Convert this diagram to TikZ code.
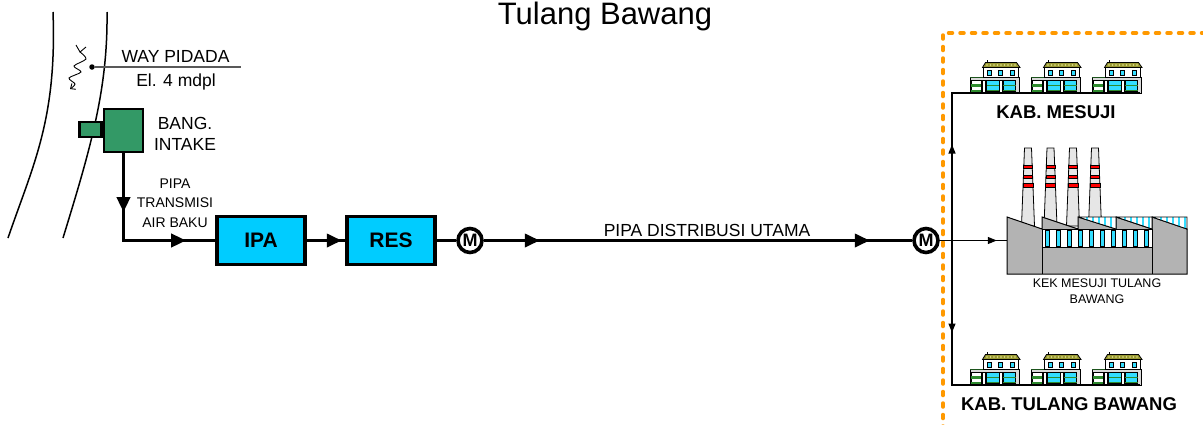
\documentclass[tikz,border=0pt]{standalone}
\usepackage{fontspec}
\setmainfont{Liberation Sans}
\usetikzlibrary{arrows.meta,decorations.markings,positioning}

\definecolor{intakegreen}{HTML}{339966}
\definecolor{unitcyan}{HTML}{00CCFF}
\definecolor{zoneorange}{HTML}{FF9900}
\definecolor{roofolive}{HTML}{999933}
\definecolor{roofdot}{HTML}{E0E090}
\definecolor{glass}{HTML}{33DDFF}
\definecolor{housegreen}{HTML}{2E8B2E}
\definecolor{wallgray}{HTML}{D9D9D9}
\definecolor{plantgray}{HTML}{B3B3B3}
\definecolor{stackgray}{HTML}{E6E6E6}

\tikzset{
  pipe/.style={line width=3.6pt},
  feeder/.style={line width=1.2pt},
  flowtip/.style={postaction={decorate,decoration={markings,
      mark=at position #1 with {\arrow{Triangle[length=15pt,width=13pt]}}}}},
  thintip/.style={postaction={decorate,decoration={markings,
      mark=at position #1 with {\arrow{Triangle[length=9pt,width=7pt]}}}}},
  unit/.style={draw,line width=3.6pt,fill=unitcyan,minimum width=88pt,
      minimum height=48pt,font=\bfseries\fontsize{21}{23}\selectfont},
  meter/.style={circle,draw,line width=3.6pt,fill=white,minimum size=24pt,
      inner sep=0pt,font=\bfseries\fontsize{18}{18}\selectfont},
  intakebox/.style={draw,line width=2.4pt,fill=intakegreen,inner sep=0pt},
  lbl/.style={font=\fontsize{17.5}{20}\selectfont,inner sep=0pt},
  smalllbl/.style={font=\fontsize{14}{19.5}\selectfont,inner sep=0pt,align=center},
  kablbl/.style={font=\bfseries\fontsize{18.5}{20}\selectfont,inner sep=0pt},
  house/.pic={
    % LANTAI BAWAH
    \draw[line width=0.8pt,fill=wallgray] (0,0) rectangle (49,-15.5);
    \draw[line width=1.6pt,housegreen!60!black] (0,-15.5) -- (49,-15.5);
    \draw[line width=0.6pt,fill=white] (0.8,-13) rectangle (11.5,-0.5);
    \fill[housegreen] (1.3,-9.5) rectangle (11,-6.5);
    \fill[housegreen] (1.3,-3.5) rectangle (11,-1);
    \draw[line width=0.6pt,fill=white] (12.5,-13) rectangle (15,-0.5);
    \foreach \wx in {16.5,33} {
      \draw[line width=0.6pt,fill=glass] (\wx,-13) rectangle (\wx+12.5,-1.5);
      \draw[line width=1.2pt,housegreen] (\wx,-7.5) -- (\wx+12.5,-7.5);
      \draw[line width=1.2pt,housegreen] (\wx,-2.5) -- (\wx+12.5,-2.5);
    }
    \draw[line width=0.6pt,fill=white] (29.5,-13) rectangle (32.5,-0.5);
    % LANTAI ATAS
    \draw[line width=0.8pt,fill=white] (13.5,-15.5) rectangle (48.5,-25.5);
    \foreach \wx in {19,30.5,42}
      \draw[line width=0.6pt,fill=glass] (\wx-2.2,-17.8) rectangle (\wx+2.2,-22.5);
    % ATAP
    \draw[line width=0.8pt,fill=roofolive] (12.5,-25.5) -- (15.5,-30.5)
      -- (46.5,-30.5) -- (50,-25.5) -- cycle;
    \foreach \rx in {17,20.5,...,46} \fill[roofdot] (\rx,-28) circle (0.8pt);
    \draw[line width=0.8pt] (17,-30.5) -- (17,-33.5);
  }
}

\begin{document}
\begin{tikzpicture}[x=1pt,y=-1pt]
  \useasboundingbox (0,0) rectangle (1203,424);

  % JUDUL
  \node[font=\fontsize{31}{33}\selectfont,anchor=base,inner sep=0pt] (judul) at (605,24) {Tulang Bawang};

  % SUNGAI
  \draw[line width=1.5pt] (53,12) .. controls (57,120) and (33,165) .. (8,238);
  \draw[line width=1.5pt] (107,12) .. controls (108,90) and (90,150) .. (63,238);
  \draw[line width=0.9pt] (76,45) -- (80,52) -- (86,47);
  \draw[line width=0.9pt,-{Straight Barb[length=4pt,width=7pt]}]
    plot[smooth] coordinates {(80,52) (86,59) (74,66) (81,72) (69,78) (75,84) (70,89)};

  % TITIK SUMBER
  \node[circle,fill,inner sep=0pt,minimum size=5.5pt] (sumber) at (92,67) {};
  \coordinate (ujung) at (241,67);
  \draw[line width=1.1pt,black!65] (sumber) -- (ujung);
  \node[lbl,anchor=base] (way) at (175.5,62) {WAY PIDADA};
  \node[lbl,anchor=base] (elev) at (176,86) {El. 4 mdpl};

  % BANGUNAN INTAKE
  \node[intakebox,minimum width=39pt,minimum height=43pt] (intake) at (123.5,130.5) {};
  \node[intakebox,minimum width=22pt,minimum height=15pt,left=0pt of intake,yshift=1pt] (inlet) {};
  \node[lbl,align=center,font=\fontsize{17.5}{21}\selectfont] (intakelbl) at (185,134) {BANG.\\INTAKE};

  % UNIT PENGOLAHAN
  \node[unit] (ipa) at (261,240.5) {IPA};
  \node[unit] (res) at (391,240.5) {RES};
  \node[meter] (m1) at (470,240.5) {M};
  \node[meter] (m2) at (926,240.5) {M};
  \node[lbl,anchor=base] (pipautama) at (707,236) {PIPA DISTRIBUSI UTAMA};
  \node[smalllbl] (transmisi) at (175,203) {PIPA\\TRANSMISI\\AIR BAKU};

  % PIPA
  \draw[pipe,flowtip=59pt,flowtip=150pt] (intake.south) |- (ipa.west);
  \draw[pipe,flowtip=35pt] (ipa.east) -- (res.west);
  \draw[pipe] (res.east) -- (m1.west);
  \draw[pipe,flowtip=56pt,flowtip=386pt] (m1.east) -- (m2.west);

  % KAWASAN LAYANAN
  \draw[zoneorange,line width=3.5pt,line cap=round,dash pattern=on 4pt off 7.5pt]
    (943,430) -- (943,33) -- (1210,33);

  % CEROBONG
  \foreach \cx in {1028,1050.5,1073,1095} {
    \draw[line width=0.8pt,fill=stackgray] (\cx-3.5,148) -- (\cx+3.5,148)
      -- (\cx+6.5,226) -- (\cx-6.5,226) -- cycle;
    \foreach \by/\hw in {165/4.3,175/4.6,183.5/4.9}
      \draw[line width=0.6pt,fill=red] (\cx-\hw,\by) rectangle (\cx+\hw,\by+3.5);
  }

  % PABRIK
  \draw[line width=1pt,fill=plantgray] (1007,274) -- (1007,217) -- (1042,229)
    -- (1042,217) -- (1078,229) -- (1078,217) -- (1116,229) -- (1116,217)
    -- (1152,229) -- (1152,217) -- (1187,229) -- (1187,274) -- cycle;
  \foreach \sa/\sb in {1078/1116,1116/1152,1152/1187} {
    \begin{scope}
      \clip (\sa,217) -- (\sb,217) -- (\sb,229) -- cycle;
      \fill[white] (\sa,217) rectangle (\sb,229);
      \foreach \gx in {0,6,...,36}
        \fill[glass] (\sa+\gx+1.5,216) rectangle (\sa+\gx+4,230);
    \end{scope}
    \draw[line width=0.8pt] (\sa,217) -- (\sb,217) -- (\sb,229) -- (\sa,217);
  }
  \draw[line width=1pt,fill=white] (1042,229) rectangle (1152,247.5);
  \foreach \gx in {1045,1056,...,1145}
    \draw[line width=0.5pt,fill=glass] (\gx,230.5) rectangle (\gx+4.5,246);
  \draw[line width=1pt] (1042,229) -- (1042,274);
  \draw[line width=1pt] (1152,229) -- (1152,274);
  \node[minimum width=180pt,minimum height=57pt,inner sep=0pt] (kek) at (1097,245.5) {};
  \node[font=\fontsize{12.5}{16}\selectfont,align=center,inner sep=0pt] (keklbl) at (1097,291.5)
    {KEK MESUJI TULANG\\BAWANG};

  % PERUMAHAN
  \foreach \hx in {970,1031,1092} {
    \pic at (\hx,93) {house};
    \pic at (\hx,385) {house};
  }

  % JARINGAN DISTRIBUSI
  \coordinate (tee) at (952,240.5);
  \coordinate (mesujiend) at (1140,93);
  \coordinate (tulangend) at (1140,385);
  \draw[feeder,thintip=57pt] (m2.east) -- (kek.west |- m2.east);
  \draw[feeder,thintip=96pt] (tee) |- (mesujiend);
  \draw[feeder,thintip=92pt] (tee) |- (tulangend);
  \node[kablbl] (mesuji) at (1056,112.5) {KAB. MESUJI};
  \node[kablbl] (tulang) at (1069,404) {KAB. TULANG BAWANG};
\end{tikzpicture}
\end{document}
